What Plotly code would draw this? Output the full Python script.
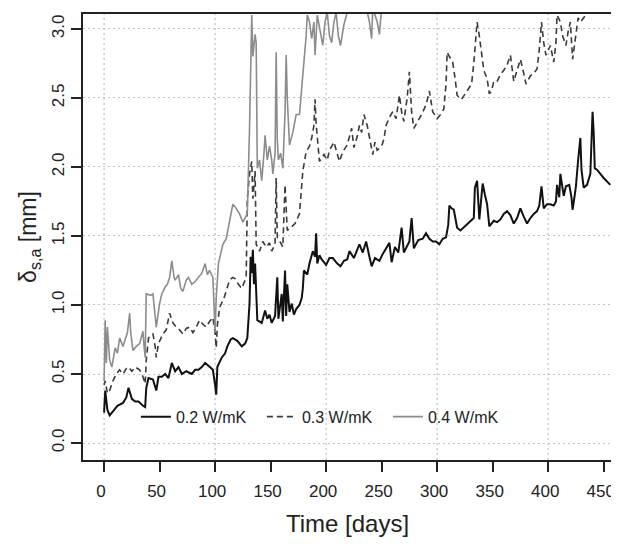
import plotly.graph_objects as go

# ---------------------------------------------------------------
#                       data
# ---------------------------------------------------------------

days_02 = [0, 1, 3, 5, 8, 12, 17, 20, 22, 25, 28, 31, 35, 37, 38, 40, 44, 46, 47, 49,
           52, 55, 58, 61, 64, 67, 70, 74, 79, 82, 85, 88, 91, 94, 98, 100, 101, 102, 104, 106,
           109, 111, 114, 116, 120, 124, 127, 129, 131, 132, 133, 134, 135, 136, 137, 138, 142, 145, 147, 149,
           151, 154, 156, 157, 160, 161, 163, 164, 165, 167, 169, 171, 173, 176, 178, 179, 180, 183, 185, 188,
           190, 191, 192, 194, 196, 200, 203, 206, 210, 213, 216, 219, 221, 225, 228, 230, 233, 236, 239, 241,
           244, 248, 251, 254, 257, 259, 262, 265, 268, 270, 272, 275, 277, 279, 283, 287, 290, 293, 296, 299,
           302, 305, 308, 310, 311, 313, 315, 317, 318, 321, 325, 328, 331, 333, 334, 336, 338, 339, 341, 343,
           345, 347, 351, 354, 357, 360, 363, 366, 369, 372, 375, 378, 381, 384, 387, 390, 392, 394, 396, 399,
           402, 405, 407, 408, 410, 411, 413, 414, 416, 419, 421, 422, 424, 425, 427, 428, 429, 430, 432, 435,
           438, 440, 441, 442, 444, 450, 456]
delta_02 = [0.22, 0.38, 0.24, 0.20, 0.23, 0.27, 0.29, 0.33, 0.40, 0.32, 0.30, 0.30, 0.27, 0.26, 0.40, 0.47, 0.46, 0.40, 0.38, 0.48,
            0.48, 0.50, 0.47, 0.58, 0.52, 0.55, 0.50, 0.52, 0.50, 0.53, 0.53, 0.55, 0.58, 0.56, 0.53, 0.42, 0.35, 0.55, 0.58, 0.62,
            0.65, 0.70, 0.75, 0.76, 0.74, 0.70, 0.72, 0.76, 1.01, 1.35, 1.23, 1.40, 1.15, 1.30, 1.10, 0.89, 0.87, 0.96, 0.90, 0.93,
            0.87, 0.92, 1.20, 0.90, 1.08, 0.88, 1.25, 0.92, 1.15, 0.95, 1.01, 0.93, 0.97, 1.00, 1.05, 1.12, 1.25, 1.22, 1.30, 1.39,
            1.35, 1.52, 1.30, 1.36, 1.33, 1.29, 1.34, 1.34, 1.30, 1.28, 1.32, 1.33, 1.39, 1.34, 1.40, 1.44, 1.38, 1.46, 1.35, 1.28,
            1.34, 1.32, 1.37, 1.41, 1.45, 1.31, 1.42, 1.38, 1.56, 1.38, 1.41, 1.46, 1.63, 1.41, 1.47, 1.48, 1.52, 1.48, 1.46, 1.46,
            1.44, 1.48, 1.49, 1.58, 1.72, 1.70, 1.69, 1.60, 1.56, 1.54, 1.57, 1.59, 1.61, 1.63, 1.85, 1.90, 1.62, 1.70, 1.88, 1.80,
            1.73, 1.57, 1.61, 1.60, 1.62, 1.66, 1.68, 1.65, 1.59, 1.63, 1.70, 1.64, 1.59, 1.63, 1.66, 1.68, 1.72, 1.86, 1.70, 1.73,
            1.73, 1.72, 1.75, 1.87, 1.78, 1.95, 1.83, 1.79, 1.86, 1.87, 1.78, 1.69, 1.80, 1.86, 2.05, 2.13, 2.21, 1.98, 1.85, 1.87,
            1.95, 2.40, 2.25, 1.99, 1.98, 1.92, 1.87]

days_03 = [0, 1, 3, 5, 8, 11, 14, 17, 20, 22, 25, 28, 32, 35, 37, 38, 40, 42, 44, 46,
           47, 49, 53, 56, 59, 62, 65, 68, 71, 74, 77, 80, 83, 86, 89, 92, 95, 98, 100, 101,
           102, 104, 108, 111, 113, 116, 118, 121, 124, 126, 128, 129, 131, 133, 134, 136, 137, 140, 143, 146,
           149, 151, 154, 155, 156, 159, 161, 163, 165, 168, 172, 176, 179, 182, 185, 187, 189, 190, 191, 194,
           198, 201, 203, 207, 210, 212, 215, 219, 223, 225, 228, 230, 232, 234, 237, 239, 242, 244, 246, 250,
           252, 254, 257, 260, 263, 266, 268, 270, 273, 275, 277, 279, 282, 286, 290, 293, 296, 300, 303, 306,
           308, 309, 311, 314, 316, 318, 320, 322, 326, 331, 333, 335, 336, 338, 339, 342, 345, 347, 349, 351,
           354, 357, 360, 363, 366, 368, 369, 372, 375, 378, 380, 384, 387, 390, 392, 394, 396, 398, 400, 402,
           405, 407, 408, 411, 413, 416, 418, 420, 422, 424, 425, 427, 429, 432, 435, 440, 450, 456]
delta_03 = [0.42, 0.45, 0.36, 0.38, 0.45, 0.50, 0.53, 0.50, 0.54, 0.55, 0.52, 0.55, 0.53, 0.48, 0.43, 0.60, 0.76, 0.78, 0.79, 0.70,
            0.62, 0.72, 0.79, 0.82, 0.94, 0.87, 0.84, 0.82, 0.79, 0.83, 0.84, 0.80, 0.84, 0.89, 0.86, 0.84, 0.88, 0.91, 0.80, 0.69,
            0.85, 0.98, 1.05, 1.12, 1.18, 1.20, 1.19, 1.15, 1.12, 1.16, 1.20, 1.77, 1.95, 2.04, 1.77, 1.97, 1.44, 1.39, 1.46, 1.42,
            1.45, 1.39, 1.44, 1.92, 1.49, 1.45, 1.42, 1.87, 1.54, 1.56, 1.59, 1.66, 1.97, 2.11, 2.15, 2.21, 2.30, 2.49, 2.31, 2.04,
            2.09, 2.05, 2.12, 2.18, 2.10, 2.04, 2.11, 2.16, 2.28, 2.14, 2.22, 2.30, 2.25, 2.38, 2.30, 2.21, 2.09, 2.18, 2.12, 2.15,
            2.20, 2.30, 2.36, 2.40, 2.35, 2.52, 2.40, 2.33, 2.50, 2.69, 2.40, 2.28, 2.32, 2.38, 2.45, 2.55, 2.40, 2.35, 2.38, 2.42,
            2.60, 2.83, 2.80, 2.76, 2.65, 2.52, 2.50, 2.49, 2.54, 2.60, 2.75, 2.98, 3.05, 2.95, 2.88, 2.70, 2.64, 2.53, 2.55, 2.62,
            2.62, 2.67, 2.70, 2.74, 2.81, 2.70, 2.62, 2.70, 2.78, 2.68, 2.60, 2.66, 2.68, 2.71, 2.85, 3.05, 2.90, 2.81, 2.84, 2.88,
            2.76, 2.90, 3.10, 3.05, 2.95, 2.88, 2.98, 3.05, 2.78, 2.90, 3.00, 3.08, 3.05, 3.08, 3.12, 3.20, 3.30, 3.35]

days_04 = [0, 1, 2, 3, 5, 7, 10, 12, 14, 17, 19, 21, 23, 24, 26, 29, 32, 35, 36, 37,
           38, 42, 44, 46, 47, 50, 52, 55, 57, 59, 61, 63, 64, 67, 69, 71, 74, 76, 79, 82,
           85, 88, 91, 93, 95, 98, 100, 101, 103, 106, 107, 110, 113, 116, 119, 122, 125, 127, 129, 131,
           132, 133, 134, 136, 137, 138, 140, 142, 144, 145, 147, 149, 151, 152, 154, 155, 156, 157, 159, 161,
           163, 164, 165, 167, 170, 173, 176, 178, 180, 182, 183, 185, 187, 189, 190, 192, 195, 197, 199, 201,
           203, 205, 207, 209, 211, 213, 216, 219, 221, 227, 235, 239, 241, 242, 246, 248, 250, 252, 260, 300,
           350, 456]
delta_04 = [0.45, 0.89, 0.58, 0.84, 0.60, 0.55, 0.69, 0.65, 0.76, 0.70, 0.75, 0.80, 0.94, 0.80, 0.67, 0.70, 0.72, 0.81, 0.70, 0.62,
            1.08, 1.07, 1.08, 0.89, 0.84, 1.01, 1.08, 1.13, 1.15, 1.20, 1.32, 1.20, 1.18, 1.22, 1.12, 1.10, 1.18, 1.20, 1.15, 1.17,
            1.20, 1.23, 1.30, 1.22, 1.25, 1.20, 0.80, 1.05, 1.30, 1.39, 1.44, 1.48, 1.60, 1.73, 1.70, 1.66, 1.60, 1.63, 1.66, 2.28,
            2.60, 3.10, 2.80, 2.96, 2.90, 1.99, 2.05, 1.90, 2.10, 2.23, 2.05, 2.15, 2.05, 1.95, 2.10, 2.83, 2.20, 2.05, 2.10, 1.99,
            2.40, 2.81, 2.50, 2.16, 2.25, 2.38, 2.38, 2.55, 2.76, 2.95, 3.10, 3.05, 2.93, 3.05, 2.81, 3.10, 2.95, 2.88, 3.05, 3.12,
            2.95, 2.90, 3.05, 3.12, 2.95, 2.88, 3.03, 3.12, 3.15, 3.25, 3.20, 3.05, 2.93, 3.15, 3.05, 2.96, 3.15, 3.30, 3.40, 3.50,
            3.60, 3.80]

series_names = ["0.2 W/mK", "0.3 W/mK", "0.4 W/mK"]

x_ticks = [0, 50, 100, 150, 200, 250, 300, 350, 400, 450]
x_grid = [0, 100, 200, 300, 400]
y_ticks = [0.0, 0.5, 1.0, 1.5, 2.0, 2.5, 3.0]
y_ticktext = ["0.0", "0.5", "1.0", "1.5", "2.0", "2.5", "3.0"]

# ---------------------------------------------------------------
#                           figure
# ---------------------------------------------------------------

fig = go.Figure()

fig.add_trace(go.Scatter(x=days_02, y=delta_02, mode="lines", name=series_names[0],
                         line=dict(color="#111111", width=2)))
fig.add_trace(go.Scatter(x=days_03, y=delta_03, mode="lines", name=series_names[1],
                         line=dict(color="#3a3a3a", width=1.6, dash="6px,4px")))
fig.add_trace(go.Scatter(x=days_04, y=delta_04, mode="lines", name=series_names[2],
                         line=dict(color="#8c8c8c", width=1.6)))

# dotted vertical grid every 100 days (ticks are every 50)
for g in x_grid:
    fig.add_shape(type="line", xref="x", yref="paper", x0=g, x1=g, y0=0, y1=1, layer="below",
                  line=dict(color="#c4c4c4", width=1.3, dash="2px,3px"))

# the page body adds an 8px offset, so the figure is 8px smaller than the window
fig.update_layout(
    width=611, height=536,
    margin=dict(l=75, r=6, t=4, b=84),
    paper_bgcolor="white", plot_bgcolor="white",
    font=dict(family="Liberation Sans, Arial, sans-serif", size=17, color="#222222"),
    showlegend=True,
    legend=dict(orientation="h", x=0.1, y=0.097, xanchor="left", yanchor="middle",
                bgcolor="rgba(0,0,0,0)", font=dict(size=16, color="#222222"),
                itemwidth=30, entrywidth=81, entrywidthmode="pixels"),
    xaxis=dict(range=[-19, 457.5], tickvals=x_ticks, ticks="outside", ticklen=10, tickwidth=1.5,
               tickcolor="#222222", showgrid=False, zeroline=False,
               ticklabelstandoff=5, ticklabelshift=-3,
               showline=True, linecolor="#222222", linewidth=1.8, mirror=True,
               title=dict(text="Time [days]", font=dict(size=24), standoff=15)),
    yaxis=dict(range=[-0.123, 3.108], tickvals=y_ticks, ticktext=y_ticktext,
               tickangle=-90, ticks="outside", ticklen=10, tickwidth=1.5, tickcolor="#222222",
               ticklabelstandoff=0,
               showgrid=True, gridcolor="#c4c4c4", griddash="2px,3px", gridwidth=1.3, zeroline=False,
               showline=True, linecolor="#222222", linewidth=1.8, mirror=True,
               title=dict(text="δ<sub>s,a</sub> [mm]", font=dict(size=23), standoff=6)),
)

fig.write_html("out.html")
